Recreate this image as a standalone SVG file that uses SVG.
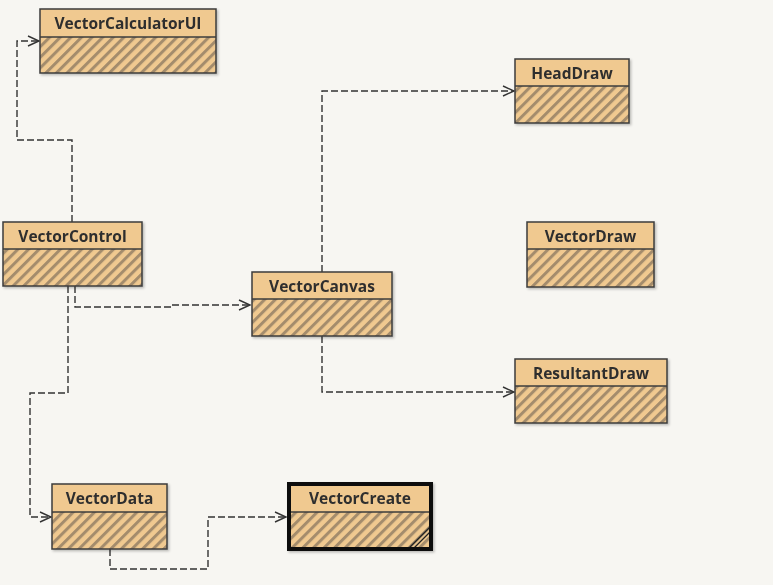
<svg xmlns="http://www.w3.org/2000/svg" width="773" height="585" viewBox="0 0 773 585">
<defs>
<pattern id="hatch" patternUnits="userSpaceOnUse" width="7.5" height="7.5" patternTransform="rotate(45)">
<rect width="7.5" height="7.5" fill="#f0c990"/>
<rect x="0" y="0" width="3" height="7.5" fill="#a48c6c"/>
</pattern>
<marker id="arr" markerWidth="14" markerHeight="14" refX="12" refY="7" orient="auto" markerUnits="userSpaceOnUse">
<path d="M1,2 L12,7 L1,12" fill="none" stroke="#333" stroke-width="1.4"/>
</marker>
<filter id="sh" x="-5%" y="-5%" width="115%" height="120%">
<feDropShadow dx="1.5" dy="1.5" stdDeviation="1" flood-color="#000" flood-opacity="0.25"/>
</filter>
</defs>
<style>
.hd{fill:#f0c990;}
.bd{fill:url(#hatch);}
.fr{fill:none;stroke:#3c3c3c;stroke-width:1.5;}
.ln{stroke:#3c3c3c;stroke-width:1.5;}
.t{font-family:"Open Sans","Noto Sans",sans-serif;font-weight:bold;font-size:15.5px;fill:#2e2e2e;text-anchor:middle;}
.c{fill:none;stroke:#333;stroke-width:1.4;stroke-dasharray:7,3;marker-end:url(#arr);}
</style>
<rect width="773" height="585" fill="#f7f6f2"/>
<g id="connectors">
<path class="c" d="M72,222 V140 H17 V41 H39"/>
<path class="c" d="M75,286 V307 H171 V305 H250"/>
<path class="c" d="M68,286 V393 H30 V517 H51"/>
<path class="c" d="M110,549 V569 H208 V517 H286"/>
<path class="c" d="M322,272 V91 H514"/>
<path class="c" d="M322,336 V392 H514"/>
</g>
<g id="VectorCalculatorUI" filter="url(#sh)">
<rect class="hd" x="40" y="9" width="176" height="28"/>
<rect class="bd" x="40" y="37" width="176" height="36"/>
<rect class="fr" x="40" y="9" width="176" height="64"/>
<line class="ln" x1="40" y1="37" x2="216" y2="37"/>
<text class="t" x="128" y="29">VectorCalculatorUI</text>
</g>
<g id="VectorControl" filter="url(#sh)">
<rect class="hd" x="3" y="222" width="139" height="27"/>
<rect class="bd" x="3" y="249" width="139" height="37"/>
<rect class="fr" x="3" y="222" width="139" height="64"/>
<line class="ln" x1="3" y1="249" x2="142" y2="249"/>
<text class="t" x="72.5" y="242">VectorControl</text>
</g>
<g id="VectorCanvas" filter="url(#sh)">
<rect class="hd" x="252" y="272" width="140" height="27"/>
<rect class="bd" x="252" y="299" width="140" height="37"/>
<rect class="fr" x="252" y="272" width="140" height="64"/>
<line class="ln" x1="252" y1="299" x2="392" y2="299"/>
<text class="t" x="322" y="292">VectorCanvas</text>
</g>
<g id="HeadDraw" filter="url(#sh)">
<rect class="hd" x="515" y="59" width="114" height="27"/>
<rect class="bd" x="515" y="86" width="114" height="37"/>
<rect class="fr" x="515" y="59" width="114" height="64"/>
<line class="ln" x1="515" y1="86" x2="629" y2="86"/>
<text class="t" x="572" y="79">HeadDraw</text>
</g>
<g id="VectorDraw" filter="url(#sh)">
<rect class="hd" x="527" y="222" width="127" height="27"/>
<rect class="bd" x="527" y="249" width="127" height="38"/>
<rect class="fr" x="527" y="222" width="127" height="65"/>
<line class="ln" x1="527" y1="249" x2="654" y2="249"/>
<text class="t" x="590.5" y="242">VectorDraw</text>
</g>
<g id="ResultantDraw" filter="url(#sh)">
<rect class="hd" x="515" y="359" width="152" height="27"/>
<rect class="bd" x="515" y="386" width="152" height="37"/>
<rect class="fr" x="515" y="359" width="152" height="64"/>
<line class="ln" x1="515" y1="386" x2="667" y2="386"/>
<text class="t" x="591" y="379">ResultantDraw</text>
</g>
<g id="VectorData" filter="url(#sh)">
<rect class="hd" x="52" y="484" width="115" height="28"/>
<rect class="bd" x="52" y="512" width="115" height="37"/>
<rect class="fr" x="52" y="484" width="115" height="65"/>
<line class="ln" x1="52" y1="512" x2="167" y2="512"/>
<text class="t" x="109.5" y="504">VectorData</text>
</g>
<g id="VectorCreate" filter="url(#sh)">
<rect class="hd" x="289" y="484" width="142" height="28"/>
<rect class="bd" x="289" y="512" width="142" height="37"/>
<line class="ln" x1="289" y1="512" x2="431" y2="512"/>
<line x1="408" y1="549" x2="431" y2="526" stroke="#222" stroke-width="1.3"/>
<line x1="413" y1="549" x2="431" y2="531" stroke="#222" stroke-width="1.3"/>
<rect x="289" y="484" width="142" height="65" fill="none" stroke="#111" stroke-width="4"/>
<text class="t" x="360" y="504">VectorCreate</text>
</g>
</svg>
